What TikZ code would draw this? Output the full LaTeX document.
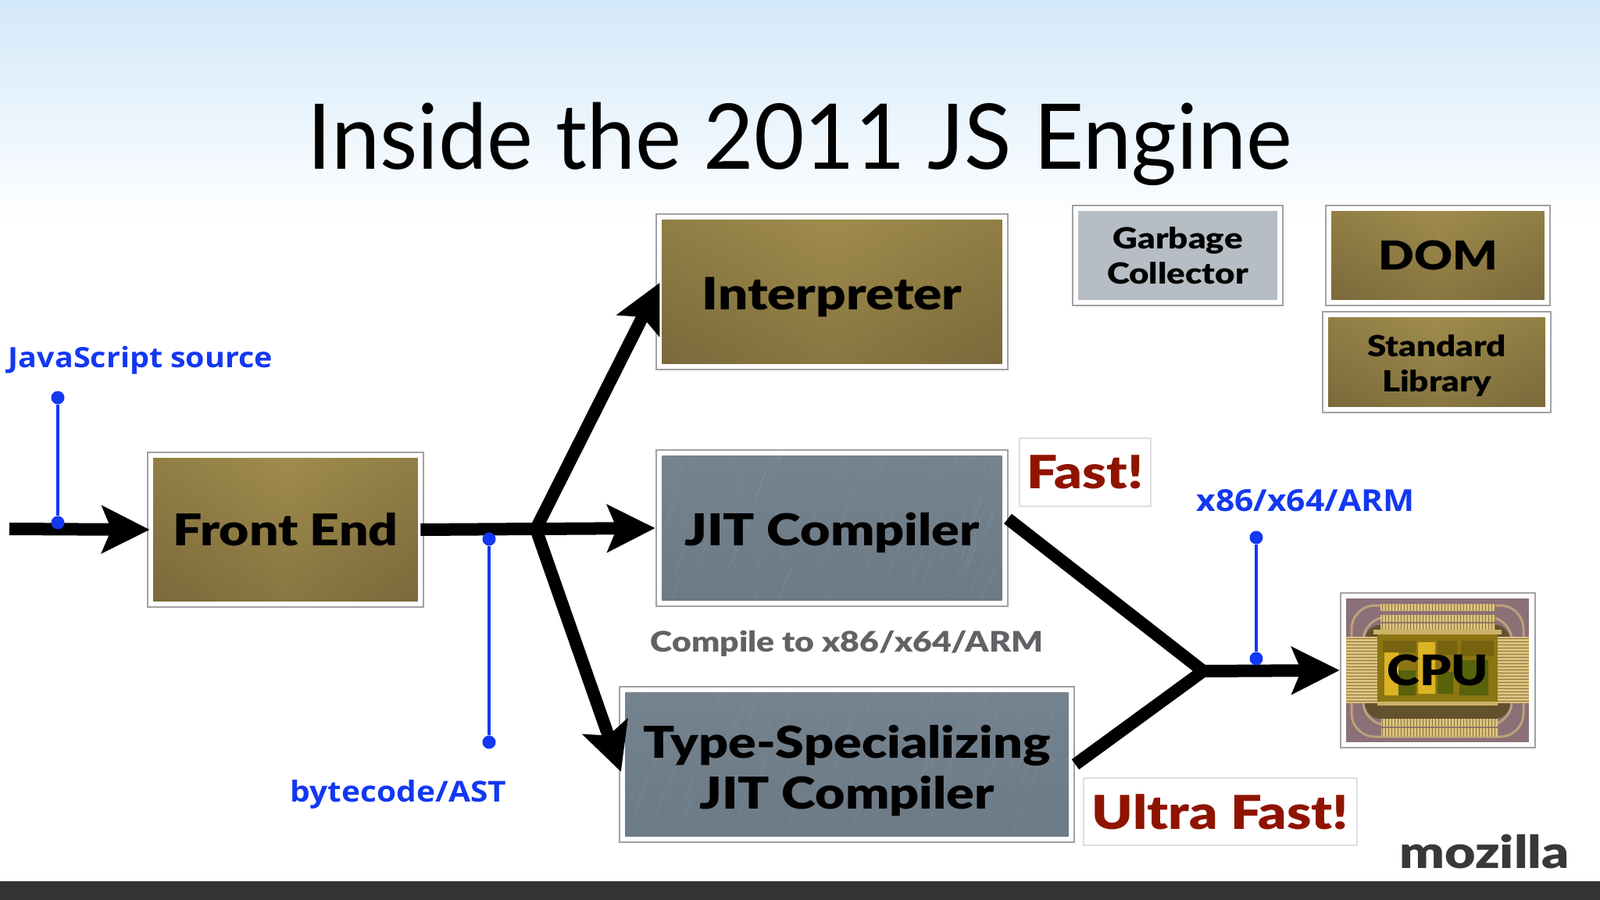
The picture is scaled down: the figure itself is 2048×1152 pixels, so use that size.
\documentclass[tikz,border=0pt]{standalone}
\usepackage{fontspec}
\usetikzlibrary{arrows.meta,calc}
\newfontfamily\titlefont{Lato}[FakeStretch=.96]
\newfontfamily\heavyfont{Lato Black}[FakeStretch=1.18]
\newfontfamily\bluefont{Open Sans}[BoldFont={Open Sans Bold},FakeStretch=1.1]
\definecolor{skytop}{HTML}{D3E9FA}
\definecolor{framegray}{HTML}{A2A2A4}
\definecolor{brasslight}{HTML}{A08C4C}
\definecolor{brassdark}{HTML}{7A693B}
\definecolor{slatefill}{HTML}{75838F}
\definecolor{slatedark}{HTML}{6C7A86}
\definecolor{silverfill}{HTML}{B6BDC4}
\definecolor{flowblue}{HTML}{1238F2}
\definecolor{fastred}{HTML}{8F1400}
\definecolor{notegray}{HTML}{626266}
\definecolor{chipback}{HTML}{8B7077}
\definecolor{chipgold}{HTML}{DCC27E}
\definecolor{chipdie}{HTML}{8C7512}
\definecolor{chipline}{HTML}{8A7440}
\tikzset{
	plate/.style={rectangle,draw=framegray,fill=white,line width=.25mm,inner sep=0pt,align=center,font=\heavyfont},
	brass/.style={plate,path picture={
		\shade[left color=brassdark,right color=brassdark,middle color=brasslight]
			([shift={(.75mm,-.75mm)}]path picture bounding box.north west) rectangle ([shift={(-.75mm,.75mm)}]path picture bounding box.south east);
		\shade[top color=brasslight,bottom color=brassdark,opacity=.6]
			([shift={(.75mm,-.75mm)}]path picture bounding box.north west) rectangle ([shift={(-.75mm,.75mm)}]path picture bounding box.south east);
	}},
	slate/.style={plate,path picture={
		\shade[top color=slatefill,bottom color=slatedark]
			([shift={(.75mm,-.75mm)}]path picture bounding box.north west) rectangle ([shift={(-.75mm,.75mm)}]path picture bounding box.south east);
		% faint scratches in the stone
		\clip ([shift={(.75mm,-.75mm)}]path picture bounding box.north west) rectangle ([shift={(-.75mm,.75mm)}]path picture bounding box.south east);
		\path (path picture bounding box.south west) coordinate (sw) (path picture bounding box.north east) coordinate (ne);
		\foreach \i in {1,...,90}{
			\pgfmathsetmacro\rx{rnd}\pgfmathsetmacro\ry{rnd}
			\draw[white,opacity=.05,line width=.12mm] let \p1=(sw),\p2=(ne) in
				(\x1+\rx*\x2-\rx*\x1,\y1+\ry*\y2-\ry*\y1) -- ++(.15cm,.4cm);
		}
	}},
	silver/.style={plate,path picture={
		\fill[silverfill]
			([shift={(.75mm,-.75mm)}]path picture bounding box.north west) rectangle ([shift={(-.75mm,.75mm)}]path picture bounding box.south east);
	}},
	tag/.style={rectangle,draw=black!13,fill=white,line width=.15mm,inner sep=0pt,text=fastred,font=\heavyfont},
	bluelabel/.style={inner sep=0pt,text=flowblue},
	bluedot/.style={circle,fill=flowblue,inner sep=0pt,minimum size=1.7mm},
	blueline/.style={draw=flowblue,line width=.4mm},
	flow/.style={line width=1.6mm,line cap=butt,line join=miter},
	flowarrow/.style={flow,-{Stealth[length=6.1mm,width=6mm,inset=1.2mm]}}
}
\begin{document}
\begin{tikzpicture}[x=.01cm,y=-.01cm]
	\useasboundingbox (0,0) rectangle (2048,1152);
	% backdrop
	\shade[top color=skytop,bottom color=white] (0,0) rectangle (2048,290);
	\fill[black!80] (0,1128) rectangle (2048,1152);
	\node[inner sep=0pt,font=\titlefont\fontsize{33}{36}\selectfont,anchor=base] (title) at (1024,217) {Inside the 2011 JS Engine};

	% boxes
	\node[brass,minimum width=3.53cm,minimum height=1.98cm,font=\heavyfont\fontsize{15.9}{18}\selectfont] (frontend) at (365.5,678) {Front End};
	\node[brass,minimum width=4.5cm,minimum height=1.99cm,font=\heavyfont\fontsize{16.2}{18}\selectfont] (interp) at (1065,373.5) {\rule{0pt}{5.6mm}Interpreter};
	\node[slate,minimum width=4.5cm,minimum height=2cm,font=\heavyfont\fontsize{16}{18}\selectfont] (jit) at (1065,676) {\rule{0pt}{5.4mm}JIT Compiler};
	\node[slate,minimum width=5.82cm,minimum height=1.99cm,font=\heavyfont\fontsize{16}{18.5}\selectfont] (typejit) at (1084,978.5) {\rule{0pt}{5.8mm}Type-Specializing\\JIT Compiler};
	\node[silver,minimum width=2.69cm,minimum height=1.28cm,font=\heavyfont\fontsize{10.6}{12.8}\selectfont] (gc) at (1507.5,327) {Garbage\\Collector};
	\node[brass,minimum width=2.87cm,minimum height=1.28cm,font=\heavyfont\fontsize{14.5}{18}\selectfont] (dom) at (1840.5,327) {DOM};
	\node[brass,minimum width=2.92cm,minimum height=1.29cm,font=\heavyfont\fontsize{10.6}{12.8}\selectfont] (stdlib) at (1839,463.5) {\rule{0pt}{3.7mm}Standard\\Library};
	\node[plate,minimum width=2.49cm,minimum height=1.98cm] (cpu) at (1840.5,858) {};

	% chip picture
	\fill[chipback] (1723,766) rectangle (1957,950);
	\draw[chipgold!60!chipback,line width=.3mm,rounded corners=3mm] (1730,840) -- (1730,775) -- (1950,775) -- (1950,840) (1730,880) -- (1730,943) -- (1950,943) -- (1950,880);
	\draw[chipgold!60!chipback,line width=.3mm,rounded corners=3mm] (1745,840) -- (1745,790) -- (1935,790) -- (1935,840) (1745,880) -- (1745,928) -- (1935,928) -- (1935,880);
	\fill[chipline!70!black,rounded corners=2mm] (1747,800) rectangle (1933,920);
	\fill[chipgold] (1723,815) rectangle (1763,900) (1917,815) rectangle (1957,900);
	\fill[chipgold] (1767,773) rectangle (1913,782) (1767,787) rectangle (1913,796) (1767,798) rectangle (1913,806);
	\fill[chipgold] (1768,920) rectangle (1917,930) (1768,932) rectangle (1917,943);
	\foreach \x in {1769,1773,...,1913} \draw[chipline,line width=.1mm] (\x,773) -- (\x,782) (\x,787) -- (\x,806) (\x,920) -- (\x,943);
	\foreach \y in {817,821,...,899} \draw[chipline,line width=.1mm] (1723,\y) -- (1763,\y) (1917,\y) -- (1957,\y);
	\fill[chipdie] (1763,812) rectangle (1917,900);
	\fill[chipgold!80!chipdie] (1758,806) rectangle (1922,812) (1763,898) rectangle (1917,903);
	\fill[yellow!60!orange!85!black] (1815,822) rectangle (1837,888) (1772,835) rectangle (1790,890);
	\fill[chipdie!70!black!90!green] (1790,858) rectangle (1812,890) (1840,860) rectangle (1860,888) (1868,845) rectangle (1905,890);
	\fill[chipdie!85!black] (1770,820) rectangle (1812,835) (1840,820) rectangle (1865,838) (1870,820) rectangle (1912,840);
	\node[inner sep=0pt,font=\heavyfont\fontsize{15.3}{18}\selectfont] (cpulabel) at (cpu) {CPU};

	% tags and notes
	\node[tag,minimum width=1.68cm,minimum height=.87cm,font=\heavyfont\fontsize{16.7}{18}\selectfont] (fast) at (1389,604.5) {Fast!};
	\node[tag,minimum width=3.5cm,minimum height=.86cm,font=\heavyfont\fontsize{17}{18}\selectfont] (ultra) at (1562,1039) {Ultra Fast!};
	\node[inner sep=0pt,text=notegray,font=\heavyfont\fontsize{10.3}{12}\selectfont] (compile) at (1084,824) {Compile to x86/x64/ARM};
	\node[inner sep=0pt,text=black!78,font=\heavyfont\fontsize{16.4}{18}\selectfont] (mozilla) at (1900,1090) {mozilla};
	\node[bluelabel,font=\bluefont\bfseries\fontsize{10.2}{12}\selectfont] (srclabel) at (180,461) {JavaScript source};
	\node[bluelabel,font=\bluefont\bfseries\fontsize{10.5}{12}\selectfont] (bytelabel) at (510,1017) {bytecode/AST};
	\node[bluelabel,font=\bluefont\bfseries\fontsize{11}{12}\selectfont] (archlabel) at (1671,641) {x86/x64/ARM};

	% flow
	\coordinate (start) at (12,677);
	\coordinate (fork) at (686,677);
	\coordinate (jitout) at (1290,664);
	\coordinate (merge) at (1540,859);
	\draw[flowarrow,shorten >=-.4mm] (start) -- (frontend.west);
	\draw[flow] (frontend.east) ++(-5,0) -- (fork);
	\draw[flowarrow] (fork) -- (jit.west);
	\draw[flowarrow,shorten >=-1.3mm] (fork) -- (interp.west);
	\draw[flowarrow,shorten >=-1mm] (fork) -- (typejit.west);
	\draw[flow] (jitout) -- (merge) -- (typejit.east);
	\draw[flowarrow] (merge) -- (cpu.west);

	% blue markers
	\node[bluedot] (srctop) at (74,509) {};
	\node[bluedot] (srcbot) at (74,669) {};
	\node[bluedot] (bytetop) at (626,690) {};
	\node[bluedot] (bytebot) at (626,950) {};
	\node[bluedot] (archtop) at (1608,688) {};
	\node[bluedot] (archbot) at (1608,843) {};
	\draw[blueline] (srctop) -- (srcbot);
	\draw[blueline] (bytetop) -- (bytebot);
	\draw[blueline] (archtop) -- (archbot);
\end{tikzpicture}
\end{document}
